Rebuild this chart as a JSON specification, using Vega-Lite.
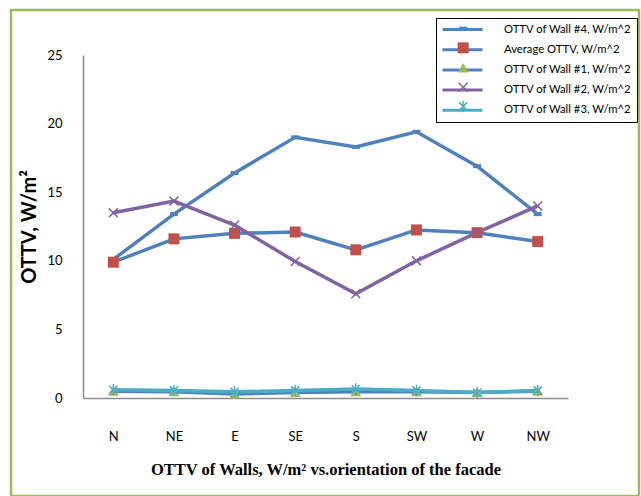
{
  "$schema": "https://vega.github.io/schema/vega-lite/v6.json",
  "width": 628,
  "height": 486,
  "autosize": {"type": "none"},
  "padding": {"left": 11, "top": 10, "right": 2, "bottom": 0},
  "background": "white",
  "config": {
    "view": {"stroke": "#9BBB59", "strokeWidth": 2.5},
    "font": "Lato"
  },
  "data": {
    "values": [
      {"dir": "N", "series": "OTTV of Wall #4, W/m^2", "v": 10.1},
      {"dir": "NE", "series": "OTTV of Wall #4, W/m^2", "v": 13.4},
      {"dir": "E", "series": "OTTV of Wall #4, W/m^2", "v": 16.4},
      {"dir": "SE", "series": "OTTV of Wall #4, W/m^2", "v": 19.0},
      {"dir": "S", "series": "OTTV of Wall #4, W/m^2", "v": 18.3},
      {"dir": "SW", "series": "OTTV of Wall #4, W/m^2", "v": 19.4},
      {"dir": "W", "series": "OTTV of Wall #4, W/m^2", "v": 16.9},
      {"dir": "NW", "series": "OTTV of Wall #4, W/m^2", "v": 13.4},
      {"dir": "N", "series": "Average OTTV, W/m^2", "v": 9.9},
      {"dir": "NE", "series": "Average OTTV, W/m^2", "v": 11.6},
      {"dir": "E", "series": "Average OTTV, W/m^2", "v": 12.0},
      {"dir": "SE", "series": "Average OTTV, W/m^2", "v": 12.1},
      {"dir": "S", "series": "Average OTTV, W/m^2", "v": 10.8},
      {"dir": "SW", "series": "Average OTTV, W/m^2", "v": 12.25},
      {"dir": "W", "series": "Average OTTV, W/m^2", "v": 12.05},
      {"dir": "NW", "series": "Average OTTV, W/m^2", "v": 11.4},
      {"dir": "N", "series": "OTTV of Wall #1, W/m^2", "v": 0.5},
      {"dir": "NE", "series": "OTTV of Wall #1, W/m^2", "v": 0.45},
      {"dir": "E", "series": "OTTV of Wall #1, W/m^2", "v": 0.3},
      {"dir": "SE", "series": "OTTV of Wall #1, W/m^2", "v": 0.4},
      {"dir": "S", "series": "OTTV of Wall #1, W/m^2", "v": 0.45},
      {"dir": "SW", "series": "OTTV of Wall #1, W/m^2", "v": 0.45},
      {"dir": "W", "series": "OTTV of Wall #1, W/m^2", "v": 0.4},
      {"dir": "NW", "series": "OTTV of Wall #1, W/m^2", "v": 0.5},
      {"dir": "N", "series": "OTTV of Wall #2, W/m^2", "v": 13.5},
      {"dir": "NE", "series": "OTTV of Wall #2, W/m^2", "v": 14.35},
      {"dir": "E", "series": "OTTV of Wall #2, W/m^2", "v": 12.6},
      {"dir": "SE", "series": "OTTV of Wall #2, W/m^2", "v": 9.95},
      {"dir": "S", "series": "OTTV of Wall #2, W/m^2", "v": 7.6},
      {"dir": "SW", "series": "OTTV of Wall #2, W/m^2", "v": 10.0},
      {"dir": "W", "series": "OTTV of Wall #2, W/m^2", "v": 12.05},
      {"dir": "NW", "series": "OTTV of Wall #2, W/m^2", "v": 14.0},
      {"dir": "N", "series": "OTTV of Wall #3, W/m^2", "v": 0.6},
      {"dir": "NE", "series": "OTTV of Wall #3, W/m^2", "v": 0.55},
      {"dir": "E", "series": "OTTV of Wall #3, W/m^2", "v": 0.45},
      {"dir": "SE", "series": "OTTV of Wall #3, W/m^2", "v": 0.55},
      {"dir": "S", "series": "OTTV of Wall #3, W/m^2", "v": 0.65},
      {"dir": "SW", "series": "OTTV of Wall #3, W/m^2", "v": 0.55},
      {"dir": "W", "series": "OTTV of Wall #3, W/m^2", "v": 0.4},
      {"dir": "NW", "series": "OTTV of Wall #3, W/m^2", "v": 0.55}
    ]
  },
  "encoding": {
    "x": {
      "field": "dir",
      "type": "nominal",
      "sort": ["N", "NE", "E", "SE", "S", "SW", "W", "NW"],
      "scale": {"type": "point", "range": [72, 557], "padding": 0.5},
      "axis": {
        "offset": -98,
        "labelAngle": 0,
        "ticks": false,
        "tickSize": 0,
        "grid": false,
        "domainColor": "#8C8C8C",
        "domainWidth": 1.5,
        "labelFont": "Lato",
        "labelFontSize": 13,
        "labelColor": "#000000",
        "labelPadding": 32,
        "title": "OTTV of Walls, W/m² vs.orientation of the facade",
        "titleFont": "Liberation Serif",
        "titleFontSize": 16.5,
        "titleFontWeight": "bold",
        "titleColor": "#000000",
        "titlePadding": 18
      }
    },
    "y": {
      "field": "v",
      "type": "quantitative",
      "scale": {"domain": [0, 25], "range": [388, 45], "nice": false},
      "axis": {
        "offset": -72,
        "values": [0, 5, 10, 15, 20, 25],
        "ticks": false,
        "tickSize": 0,
        "grid": false,
        "domainColor": "#8C8C8C",
        "domainWidth": 1.5,
        "labelFont": "Lato",
        "labelFontSize": 13,
        "labelColor": "#000000",
        "labelPadding": 21,
        "title": "OTTV, W/m²",
        "titleFont": "Lato",
        "titleFontSize": 20,
        "titleFontWeight": "bold",
        "titleColor": "#000000",
        "titlePadding": 7
      }
    }
  },
  "layer": [
    {
      "mark": {"type": "line", "strokeWidth": 3.5},
      "encoding": {
        "stroke": {
          "field": "series",
          "type": "nominal",
          "sort": ["OTTV of Wall #4, W/m^2", "Average OTTV, W/m^2", "OTTV of Wall #1, W/m^2", "OTTV of Wall #2, W/m^2", "OTTV of Wall #3, W/m^2"],
          "scale": {
            "range": ["#4F81BD", "#4F81BD", "#4F81BD", "#8064A2", "#4BACC6"]
          },
          "legend": {
            "orient": "none",
            "legendX": 425,
            "legendY": 8,
            "title": null,
            "symbolType": "M-4,0H4",
            "symbolSize": 100,
            "symbolStrokeWidth": 3,
            "symbolOffset": 15,
            "labelFont": "Lato",
            "labelFontSize": 11.3,
            "labelColor": "#000000",
            "labelOffset": 35,
            "rowPadding": 7.2,
            "padding": 5,
            "strokeColor": "#000000",
            "fillColor": "white"
          }
        }
      }
    },
    {
      "mark": {"type": "point", "filled": true, "size": 100, "strokeWidth": 0, "opacity": 1},
      "encoding": {
        "color": {
          "field": "series",
          "type": "nominal",
          "scale": {
            "domain": ["OTTV of Wall #4, W/m^2", "Average OTTV, W/m^2", "OTTV of Wall #1, W/m^2", "OTTV of Wall #2, W/m^2", "OTTV of Wall #3, W/m^2"],
            "range": ["#4F81BD", "#C0504D", "#9BBB59", "#8064A2", "#4BACC6"]
          },
          "legend": {
            "orient": "none",
            "legendX": 425,
            "legendY": 8,
            "title": null,
            "symbolSize": 100,
            "symbolStrokeWidth": 0,
            "symbolOffset": 16.5,
            "labelFont": "Lato",
            "labelFontSize": 11.3,
            "labelOpacity": 0,
            "labelOffset": 38,
            "rowPadding": 7.2,
            "padding": 5
          }
        },
        "shape": {
          "field": "series",
          "type": "nominal",
          "scale": {
            "domain": ["OTTV of Wall #4, W/m^2", "Average OTTV, W/m^2", "OTTV of Wall #1, W/m^2", "OTTV of Wall #2, W/m^2", "OTTV of Wall #3, W/m^2"],
            "range": [
              "M-0.8,-0.4H0.8V0.4H-0.8Z",
              "M-1.1,-1.1H1.1V1.1H-1.1Z",
              "M0,-1L1.1,0.9H-1.1Z",
              "M-0.78,-1L0,-0.22L0.78,-1L1,-0.78L0.22,0L1,0.78L0.78,1L0,0.22L-0.78,1L-1,0.78L-0.22,0L-1,-0.78Z",
              "M-0.7,-0.92L0,-0.22L0.7,-0.92L0.92,-0.7L0.22,0L0.92,0.7L0.7,0.92L0,0.22L-0.7,0.92L-0.92,0.7L-0.22,0L-0.92,-0.7ZM-0.14,-1.15H0.14V1.15H-0.14Z"
            ]
          },
          "legend": {
            "orient": "none",
            "legendX": 425,
            "legendY": 8,
            "title": null,
            "symbolSize": 100,
            "symbolStrokeWidth": 0,
            "symbolOffset": 16.5,
            "labelFont": "Lato",
            "labelFontSize": 11.3,
            "labelOpacity": 0,
            "labelOffset": 38,
            "rowPadding": 7.2,
            "padding": 5
          }
        }
      }
    }
  ]
}
